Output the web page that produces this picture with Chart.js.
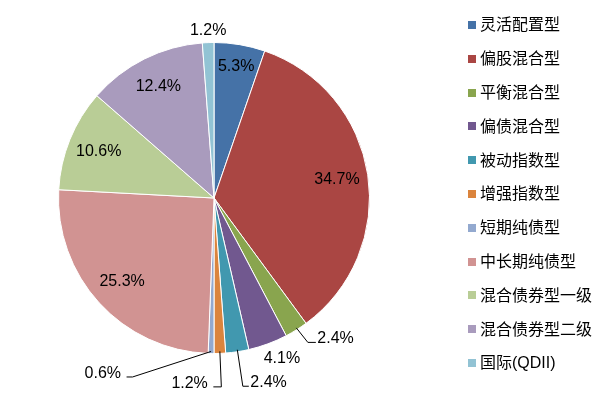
<!DOCTYPE html>
<html>
<head>
<meta charset="utf-8">
<script src="https://cdn.jsdelivr.net/npm/chart.js@4"></script>
<style>
  html, body { margin: 0; padding: 0; background: #fff; }
  #wrap { width: 614px; height: 395px; }
</style>
</head>
<body>
<div id="wrap"><canvas id="chart" width="614" height="395"></canvas></div>
<script>
// fund types and their share (%)
const categories = ['灵活配置型', '偏股混合型', '平衡混合型', '偏债混合型', '被动指数型', '增强指数型',
  '短期纯债型', '中长期纯债型', '混合债券型一级', '混合债券型二级', '国际(QDII)'];
const shares = [5.3, 34.7, 2.4, 4.1, 2.4, 1.2, 0.6, 25.3, 10.6, 12.4, 1.2];
const colors = ['#4572A7', '#AA4643', '#89A54E', '#71588F', '#4198AF', '#DB843D',
  '#93A9CF', '#D19392', '#B9CD96', '#A99BBD', '#92C3D4'];

// label placement: 'in' = inside at radius factor, otherwise outside with a leader line
// (offsets are relative to the point on the slice edge)
const labelLayout = {
  0: { r: 0.86 },
  2: { path: [[11, 12], [19, 12]], align: 'left' },
  3: { text: [14, 15] },
  4: { path: [[5, 34], [11, 34]], align: 'left' },
  5: { path: [[1, 33], [-7, 33]], align: 'right' },
  6: { path: [[-79, 23], [-85, 23]], align: 'right' },
  10: { text: [0, -12] }
};

const pieLabels = {
  id: 'pieLabels',
  afterDatasetsDraw(chart) {
    const ctx = chart.ctx;
    const arcs = chart.getDatasetMeta(0).data;
    ctx.save();
    ctx.font = '16px "Liberation Sans", Arial, sans-serif';
    ctx.fillStyle = '#000';
    ctx.strokeStyle = '#000';
    ctx.lineWidth = 1;
    arcs.forEach((arc, i) => {
      const { x, y, startAngle, endAngle, outerRadius } = arc.getProps(['x', 'y', 'startAngle', 'endAngle', 'outerRadius'], true);
      const mid = (startAngle + endAngle) / 2;
      const txt = shares[i].toFixed(1) + '%';
      const lay = labelLayout[i] || {};
      const ex = x + Math.cos(mid) * outerRadius;
      const ey = y + Math.sin(mid) * outerRadius;
      if (lay.path) {
        ctx.beginPath();
        ctx.moveTo(ex, ey - 2);
        lay.path.forEach(p => ctx.lineTo(ex + p[0] + 0.5, ey + p[1] + 0.5));
        ctx.stroke();
        const end = lay.path[lay.path.length - 1];
        ctx.textAlign = lay.align;
        ctx.textBaseline = 'middle';
        const gap = lay.align === 'left' ? 2 : -5;
        ctx.fillText(txt, ex + end[0] + gap, ey + end[1] - 3);
      } else if (lay.text) {
        ctx.textAlign = 'center';
        ctx.textBaseline = 'middle';
        ctx.fillText(txt, ex + lay.text[0], ey + lay.text[1]);
      } else {
        const rf = lay.r || 0.8;
        ctx.textAlign = 'center';
        ctx.textBaseline = 'middle';
        ctx.fillText(txt, x + Math.cos(mid) * outerRadius * rf, y + Math.sin(mid) * outerRadius * rf);
      }
    });
    ctx.restore();
  }
};

// legend on the right, drawn by hand to follow the original spacing
const sideLegend = {
  id: 'sideLegend',
  afterDraw(chart) {
    const ctx = chart.ctx;
    ctx.save();
    ctx.font = '16px "Liberation Sans", "Noto Sans CJK SC", sans-serif';
    ctx.textBaseline = 'middle';
    ctx.textAlign = 'left';
    categories.forEach((name, i) => {
      const yy = 25 + i * 33.8;
      ctx.fillStyle = colors[i];
      ctx.fillRect(468, Math.round(yy) - 4, 8, 8);
      ctx.fillStyle = '#000';
      ctx.fillText(name, 480, yy + 1);
    });
    ctx.restore();
  }
};

new Chart(document.getElementById('chart'), {
  type: 'pie',
  data: {
    labels: categories,
    datasets: [{
      data: shares,
      backgroundColor: colors,
      borderColor: '#fff',
      borderWidth: 1
    }]
  },
  options: {
    responsive: false,
    animation: false,
    layout: { padding: { left: 58, right: 244, top: 42, bottom: 41 } },
    plugins: {
      legend: { display: false },
      tooltip: { enabled: false }
    }
  },
  plugins: [pieLabels, sideLegend]
});
</script>
</body>
</html>
